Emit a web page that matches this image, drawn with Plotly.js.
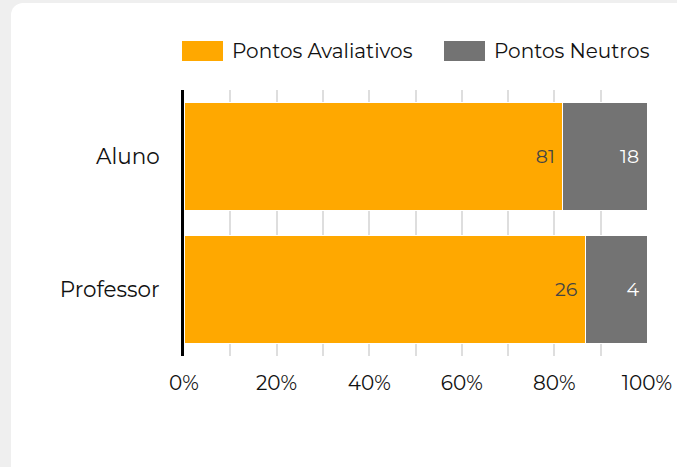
<!DOCTYPE html>
<html>
<head>
<meta charset="utf-8">
<script src="https://cdn.plot.ly/plotly-3.0.1.min.js"></script>
<style>
  html, body { margin: 0; padding: 0; background: #efefef; overflow: hidden; }
  #card { position: absolute; left: 11px; top: 3px; width: 720px; height: 520px;
          background: #ffffff; border-radius: 12px; }
  #chart { position: absolute; left: 0; top: 0; width: 677px; height: 467px; }
</style>
</head>
<body>
<div id="card"></div>
<div id="chart"></div>
<script>
// Groups and the two counted series (shown as share of each row's total)
const groups = ['Aluno', 'Professor'];
const seriesNames = ['Pontos Avaliativos', 'Pontos Neutros'];
const avaliativos = [81, 26];
const neutros = [18, 4];
const tickValues = [0, 10, 20, 30, 40, 50, 60, 70, 80, 90, 100];
const tickLabels = ['0%', '', '20%', '', '40%', '', '60%', '', '80%', '', '100%'];

const FONT = 'Montserrat, "DejaVu Sans", sans-serif';
const ORANGE = '#ffa800';
const GREY = '#737373';

const W = 677, H = 467;
const M = { l: 184, r: 30, t: 90, b: 111 };
const px = x => (x - M.l) / (W - M.l - M.r);
const py = y => (H - M.b - y) / (H - M.t - M.b);

const traces = [
  {
    type: 'bar', orientation: 'h', name: seriesNames[0],
    y: groups, x: avaliativos, text: avaliativos.map(String),
    texttemplate: '%{text}\u2009\u2009', textposition: 'inside', insidetextanchor: 'end',
    textfont: { family: FONT, size: 19, color: '#444444' },
    marker: { color: ORANGE, line: { color: '#ffffff', width: 1 } },
    hoverinfo: 'skip'
  },
  {
    type: 'bar', orientation: 'h', name: seriesNames[1],
    y: groups, x: neutros, text: neutros.map(String),
    texttemplate: '%{text}\u2009\u2009', textposition: 'inside', insidetextanchor: 'end',
    textfont: { family: FONT, size: 19, color: '#ffffff' },
    marker: { color: GREY, line: { color: '#ffffff', width: 1 } },
    hoverinfo: 'skip'
  }
];

// Legend drawn as wide swatches with labels across the top
const legendItems = [
  { color: ORANGE, x0: 182, x1: 223, tx: 230, label: seriesNames[0] },
  { color: GREY, x0: 444, x1: 485, tx: 492, label: seriesNames[1] }
];
const shapes = legendItems.map(it => ({
  type: 'rect', xref: 'paper', yref: 'paper',
  x0: px(it.x0), x1: px(it.x1), y0: py(61), y1: py(41),
  fillcolor: it.color, line: { width: 0 }
}));
const annotations = legendItems.map(it => ({
  xref: 'paper', yref: 'paper', x: px(it.tx), y: py(51),
  xanchor: 'left', yanchor: 'middle', showarrow: false,
  text: it.label, font: { family: FONT, size: 20, color: '#111111' }
}));

const layout = {
  width: W, height: H,
  margin: M,
  paper_bgcolor: 'rgba(0,0,0,0)',
  plot_bgcolor: 'rgba(0,0,0,0)',
  barmode: 'stack', barnorm: 'percent', bargap: 0.19,
  showlegend: false,
  font: { family: FONT, color: '#111111' },
  xaxis: {
    range: [0, 100], tickvals: tickValues, ticktext: tickLabels,
    showgrid: true, gridcolor: '#dedede', gridwidth: 2,
    zeroline: false, showline: false, ticks: '',
    ticklabelstandoff: 13,
    tickfont: { family: FONT, size: 20, color: '#111111' },
    fixedrange: true
  },
  yaxis: {
    autorange: 'reversed', showgrid: false, zeroline: false,
    showline: true, linecolor: '#000000', linewidth: 3, ticks: '',
    ticklabelstandoff: 17,
    tickfont: { family: FONT, size: 21.5, color: '#111111' },
    fixedrange: true
  },
  shapes: shapes,
  annotations: annotations
};

Plotly.newPlot('chart', traces, layout, { displayModeBar: false, staticPlot: true });
</script>
</body>
</html>
